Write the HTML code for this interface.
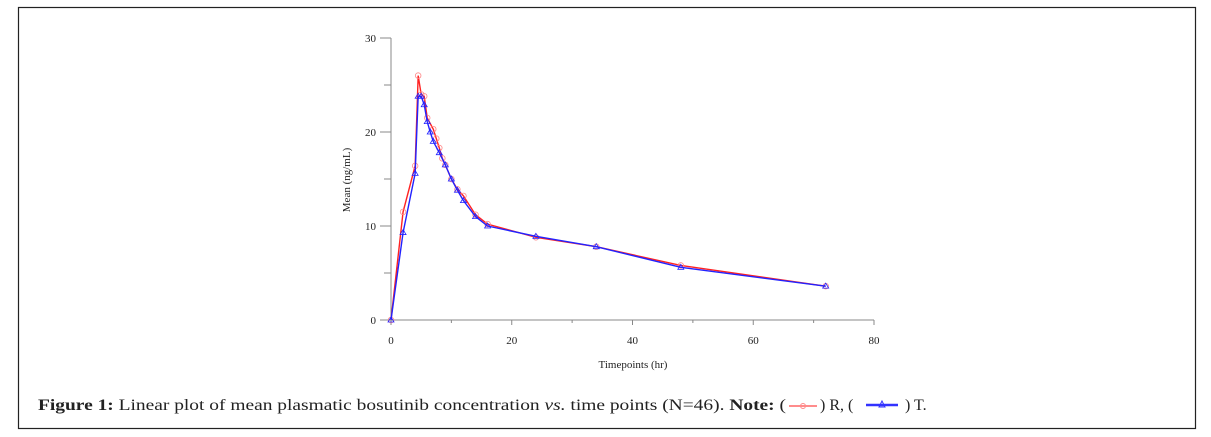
<!DOCTYPE html>
<html><head><meta charset="utf-8"><style>
body{margin:0;background:#fff;width:1211px;height:437px;overflow:hidden}
svg{position:absolute;left:0;top:0}
</style></head><body>
<svg id="s" width="1211" height="437" xmlns="http://www.w3.org/2000/svg" font-family="Liberation Serif, serif">
<rect x="18.5" y="7.5" width="1177" height="421" fill="none" stroke="#222" stroke-width="1.2"/>
<g stroke="#888" stroke-width="1" fill="none">
<line x1="391" y1="38" x2="391" y2="320"/>
<line x1="391" y1="320" x2="874" y2="320"/>
</g>
<g id="ticks" stroke="#888" stroke-width="1"></g>
<g font-size="11" fill="#222" id="lbl"></g>
<text x="633" y="368" font-size="11" text-anchor="middle" fill="#222">Timepoints (hr)</text>
<text transform="translate(350,180) rotate(-90)" font-size="11" text-anchor="middle" fill="#222">Mean (ng/mL)</text>
<g id="plot"></g>
<text x="38" y="410" font-size="16" fill="#222" textLength="748" lengthAdjust="spacingAndGlyphs"><tspan font-weight="bold">Figure 1:</tspan> Linear plot of mean plasmatic bosutinib concentration <tspan font-style="italic">vs.</tspan> time points (N=46).  <tspan font-weight="bold">Note:</tspan> (</text>
<text x="820" y="410" font-size="16" fill="#222">) R, (</text>
<text x="905" y="410" font-size="16" fill="#222">) T.</text>
</svg>
<script>
const NS="http://www.w3.org/2000/svg";
const X=t=>391+t*(874-391)/80, Y=v=>320-v*(282/30);
function el(p,n,a){const e=document.createElementNS(NS,n);for(const k in a)e.setAttribute(k,a[k]);p.appendChild(e);return e;}
const tk=document.getElementById('ticks'),lb=document.getElementById('lbl'),pl=document.getElementById('plot');
for(let t=0;t<=80;t+=10){const maj=t%20==0;el(tk,'line',{x1:X(t),x2:X(t),y1:320,y2:maj?325:323});if(maj){const e=el(lb,'text',{x:X(t),y:344,'text-anchor':'middle'});e.textContent=t;}}
for(let v=0;v<=30;v+=5){const maj=v%10==0;el(tk,'line',{x1:391,x2:maj?380:384,y1:Y(v),y2:Y(v)});if(maj){const e=el(lb,'text',{x:376,y:Y(v)+4,'text-anchor':'end'});e.textContent=v;}}
const R=[[0,0],[2,11.5],[4,16.4],[4.5,26],[5,24],[5.5,23.8],[6,21.5],[7,20.3],[7.5,19.3],[8,18.3],[8.5,17.2],[9,16.5],[10,15],[11,13.9],[12,13.2],[14,11.2],[16,10.2],[24,8.8],[34,7.8],[48,5.8],[72,3.6]];
const T=[[0,0],[2,9.3],[4,15.6],[4.5,23.8],[5,23.8],[5.5,22.9],[6,21.1],[6.5,20],[7,19],[8,17.8],[9,16.5],[10,15],[11,13.8],[12,12.7],[14,11],[16,10],[24,8.9],[34,7.8],[48,5.6],[72,3.6]];
function series(d,c,tri){el(pl,'polyline',{points:d.map(p=>X(p[0])+','+Y(p[1])).join(' '),fill:'none',stroke:c,'stroke-width':1.4});
d.forEach(p=>{const x=X(p[0]),y=Y(p[1]);if(tri)el(pl,'polygon',{points:`${x},${y-3} ${x-3},${y+2} ${x+3},${y+2}`,fill:'none',stroke:c,'stroke-width':0.8});else el(pl,'circle',{cx:x,cy:y,r:2.8,fill:'none',stroke:'#f88','stroke-width':0.8});});}
series(R,'#f22',false);series(T,'#22f',true);
el(pl,'line',{x1:789,x2:817,y1:406,y2:406,stroke:'#f66','stroke-width':1.5});el(pl,'circle',{cx:803,cy:406,r:2.5,fill:'none',stroke:'#f88'});
el(pl,'line',{x1:866,x2:898,y1:405,y2:405,stroke:'#33f','stroke-width':2.5});el(pl,'polygon',{points:'882,401 879,407 885,407',fill:'none',stroke:'#33f'});
</script>
</body></html>
